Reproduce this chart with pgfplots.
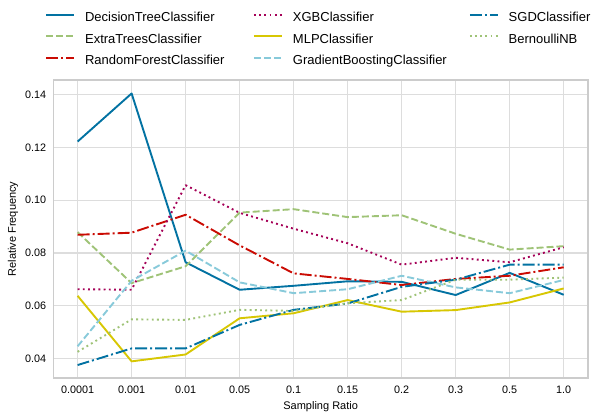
\documentclass[border=0pt]{standalone}
\usepackage{pgfplots}
\pgfplotsset{compat=1.18}
\usepackage{fontspec}
\setmainfont{Liberation Sans}
\definecolor{ybblue}{HTML}{0272A2}
\definecolor{ybgreen}{HTML}{9FC377}
\definecolor{ybred}{HTML}{CA0B03}
\definecolor{ybmag}{HTML}{A50258}
\definecolor{ybyel}{HTML}{D7C703}
\definecolor{ybcyan}{HTML}{88CADA}
\definecolor{gridgray}{HTML}{DDDDDD}
\definecolor{framegray}{HTML}{CCCCCC}
\pgfplotsset{
  base/.style={line width=1.9pt, line join=round, no markers},
  dt/.style={base, color=ybblue, solid},
  et/.style={base, color=ybgreen, dash pattern=on 7pt off 3pt},
  rf/.style={base, color=ybred, dash pattern=on 12pt off 3pt on 2pt off 3pt},
  xgb/.style={base, color=ybmag, dash pattern=on 1.9pt off 3.3pt},
  mlp/.style={base, color=ybyel, solid},
  gb/.style={base, color=ybcyan, dash pattern=on 7pt off 3pt},
  sgd/.style={base, color=ybblue, dash pattern=on 12pt off 3pt on 2pt off 3pt},
  bnb/.style={base, color=ybgreen, dash pattern=on 1.9pt off 3.3pt},
}
\begin{document}
\begin{tikzpicture}
\begin{axis}[
  at={(53.3pt,36pt)}, anchor=south west,
  scale only axis, width=534.7pt, height=298pt,
  xmin=-0.45, xmax=9.45, ymin=0.0327, ymax=0.1455,
  xtick={0,1,2,3,4,5,6,7,8,9},
  xticklabels={0.0001,0.001,0.01,0.05,0.1,0.15,0.2,0.3,0.5,1.0},
  ytick={0.04,0.06,0.08,0.10,0.12,0.14},
  yticklabel style={/pgf/number format/fixed, /pgf/number format/precision=2, /pgf/number format/fixed zerofill, anchor=east, inner sep=0pt, xshift=-7pt},
  xticklabel style={anchor=north, inner sep=0pt, yshift=-8pt},
  /pgf/number format/assume math mode=true,
  tick label style={font=\fontsize{10.8}{12}\selectfont},
  label style={font=\fontsize{11}{13}\selectfont},
  major tick length=0pt,
  grid=major,
  major grid style={color=gridgray, line width=1.1pt},
  axis line style={color=framegray, line width=1.1pt},
  xlabel={Sampling Ratio},
  ylabel={Relative Frequency},
  xlabel style={at={(axis description cs:0.5,0)}, anchor=center, yshift=-29pt},
  ylabel style={at={(axis description cs:-0.0755,0.5)}, anchor=center},
  legend columns=3, legend cell align=left,
  legend image code/.code={\draw[#1] (0pt,3.5pt) -- (28pt,3.5pt);},
  legend style={at={(axis description cs:-0.0155,1.2287)}, anchor=north west,
    draw=none, fill=none, inner sep=0pt,
    font=\fontsize{13}{15}\selectfont, row sep=9.2pt,
    nodes={inner sep=0pt, text height=9.5pt, text depth=2.8pt},
    /tikz/every odd column/.append style={column sep=10pt},
    /tikz/column 2/.append style={column sep=28.5pt},
    /tikz/column 4/.append style={column sep=22pt}},
]
\addplot[dt, forget plot] coordinates {(0,0.1222) (1,0.1404) (2,0.0765) (3,0.0661) (4,0.0676) (5,0.0693) (6,0.0691) (7,0.0641) (8,0.0725) (9,0.0642)};
\addplot[et, forget plot] coordinates {(0,0.0879) (1,0.0686) (2,0.0750) (3,0.0953) (4,0.0966) (5,0.0936) (6,0.0943) (7,0.0873) (8,0.0813) (9,0.0826)};
\addplot[rf, forget plot] coordinates {(0,0.0869) (1,0.0877) (2,0.0945) (3,0.0829) (4,0.0723) (5,0.0702) (6,0.0679) (7,0.0702) (8,0.0714) (9,0.0746)};
\addplot[xgb, forget plot] coordinates {(0,0.0663) (1,0.0661) (2,0.1057) (3,0.0952) (4,0.0892) (5,0.0837) (6,0.0756) (7,0.0782) (8,0.0765) (9,0.0822)};
\addplot[mlp, forget plot] coordinates {(0,0.0638) (1,0.0390) (2,0.0416) (3,0.0553) (4,0.0572) (5,0.0622) (6,0.0578) (7,0.0584) (8,0.0613) (9,0.0666)};
\addplot[gb, forget plot] coordinates {(0,0.0447) (1,0.0695) (2,0.0809) (3,0.0689) (4,0.0648) (5,0.0663) (6,0.0714) (7,0.0670) (8,0.0648) (9,0.0698)};
\addplot[sgd, forget plot] coordinates {(0,0.0376) (1,0.0439) (2,0.0439) (3,0.0528) (4,0.0585) (5,0.0609) (6,0.0672) (7,0.0699) (8,0.0756) (9,0.0756)};
\addplot[bnb, forget plot] coordinates {(0,0.0426) (1,0.0549) (2,0.0547) (3,0.0585) (4,0.0581) (5,0.0610) (6,0.0622) (7,0.0699) (8,0.0699) (9,0.0707)};
\addlegendimage{dt}\addlegendentry{DecisionTreeClassifier}
\addlegendimage{xgb}\addlegendentry{XGBClassifier}
\addlegendimage{sgd}\addlegendentry{SGDClassifier}
\addlegendimage{et}\addlegendentry{ExtraTreesClassifier}
\addlegendimage{mlp}\addlegendentry{MLPClassifier}
\addlegendimage{bnb}\addlegendentry{BernoulliNB}
\addlegendimage{rf}\addlegendentry{RandomForestClassifier}
\addlegendimage{gb}\addlegendentry{GradientBoostingClassifier}
\end{axis}
\pgfresetboundingbox
\path[use as bounding box] (0,0) rectangle (597pt,414pt);
\end{tikzpicture}
\end{document}
